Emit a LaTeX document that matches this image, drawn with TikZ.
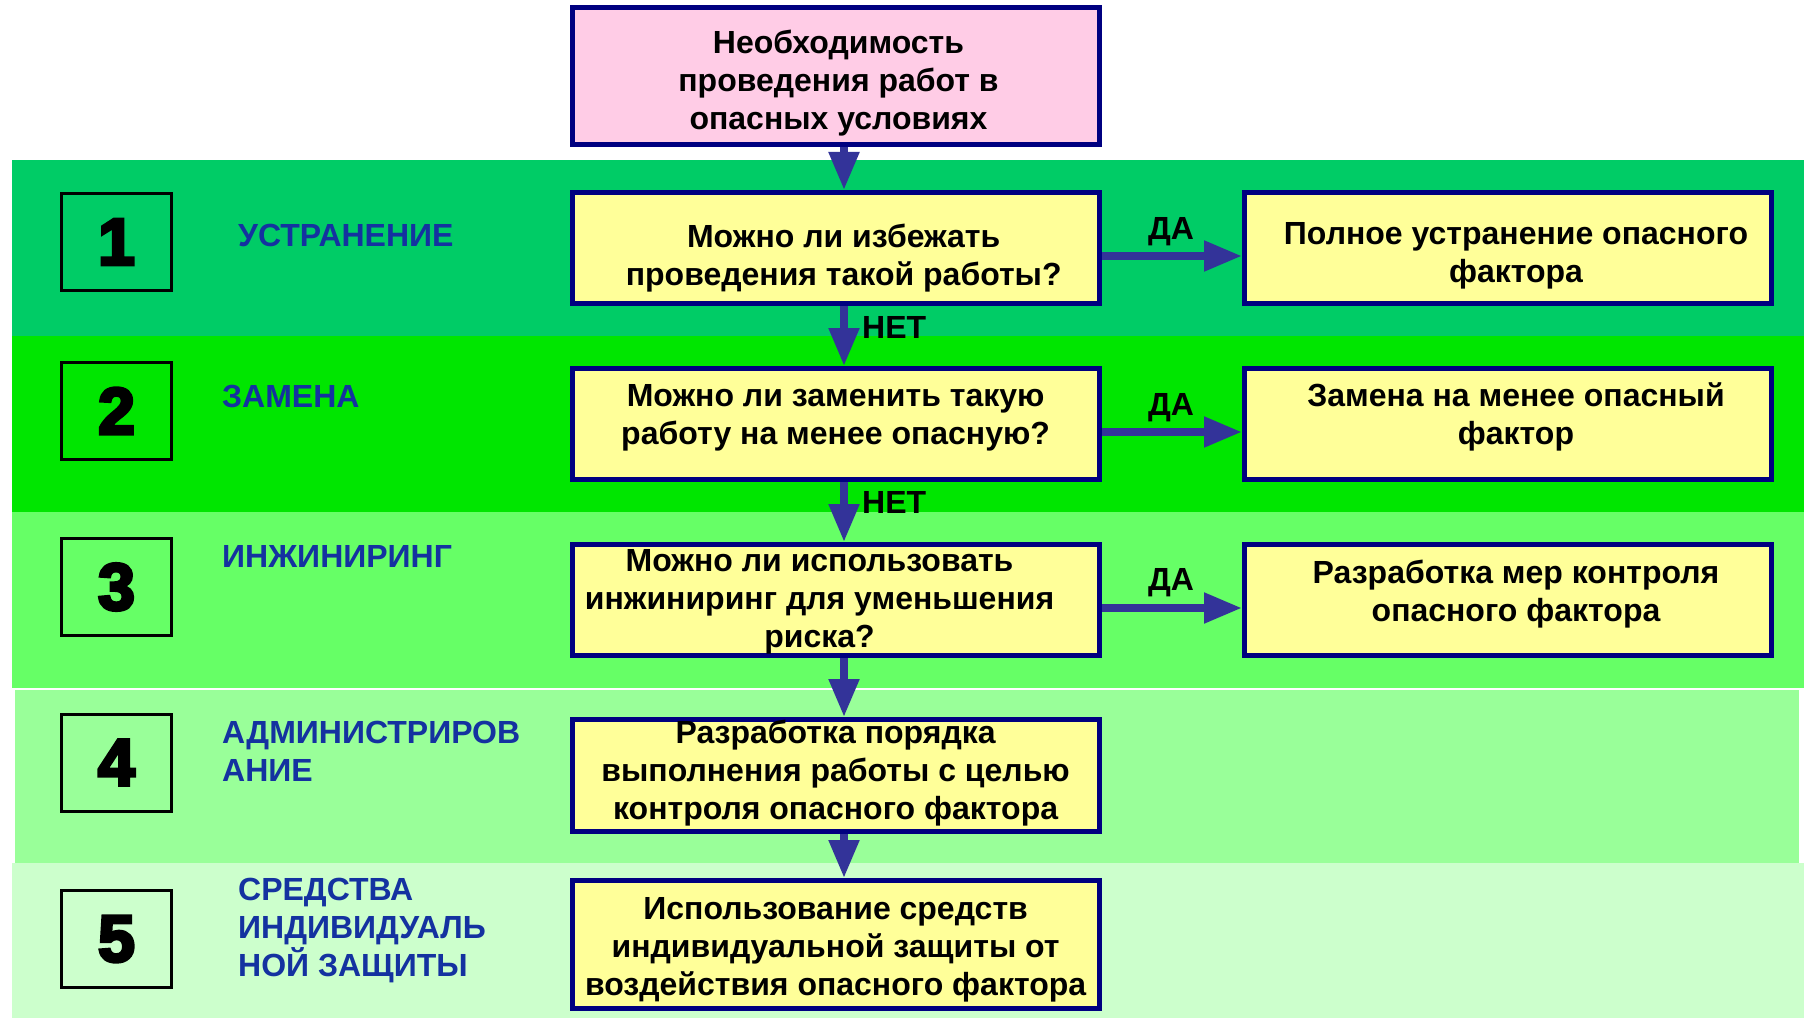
\documentclass[tikz,border=0pt]{standalone}
\usepackage{fontspec}
\setmainfont{Liberation Sans}
\newfontfamily\heavyfont[UprightFont={* Bold}, BoldFont={* Bold}, UprightFeatures={FakeBold=5}, BoldFeatures={FakeBold=5}]{Liberation Sans}
\usetikzlibrary{arrows.meta}
\definecolor{bandA}{RGB}{0,204,102}
\definecolor{bandB}{RGB}{0,230,0}
\definecolor{bandC}{RGB}{102,255,102}
\definecolor{bandD}{RGB}{153,255,153}
\definecolor{bandE}{RGB}{204,255,204}
\definecolor{boxyellow}{RGB}{255,255,153}
\definecolor{boxpink}{RGB}{255,204,230}
\definecolor{navyline}{RGB}{0,0,128}
\definecolor{arrowblue}{RGB}{51,51,153}
\definecolor{labelblue}{RGB}{20,50,160}
\begin{document}
\begin{tikzpicture}[x=1pt,y=-1pt,
  qbox/.style={draw=navyline, line width=5pt, fill=boxyellow, minimum width=527pt, minimum height=111pt, inner sep=0pt},
  btext/.style={inner sep=0pt, align=center, font=\bfseries\fontsize{32}{38}\selectfont},
  numbox/.style={draw=black, line width=3pt, minimum width=110pt, minimum height=97pt, inner sep=0pt, font=\heavyfont\fontsize{66}{70}\selectfont},
  bandlabel/.style={anchor=west, inner sep=0pt, align=left, text=labelblue, font=\bfseries\fontsize{32}{38}\selectfont},
  answer/.style={inner sep=0pt, font=\bfseries\fontsize{32}{36}\selectfont},
  flow/.style={draw=arrowblue, line width=8pt, -{Triangle[length=38pt,width=29pt]}, arrowblue}
]
\useasboundingbox[fill=white] (0,0) rectangle (1806,1019);
% bands
\fill[bandA] (11.5,160) rectangle (1804,336);
\fill[bandB] (11.5,336) rectangle (1804,512);
\fill[bandC] (11.5,512) rectangle (1804,688);
\fill[bandD] (15,690) rectangle (1799,863);
\fill[bandE] (11.5,863) rectangle (1804,1018);
% number boxes
\node[numbox] (n1) at (116.5,242) {1};
\node[numbox] (n2) at (116.5,411) {2};
\node[numbox] (n3) at (116.5,587) {3};
\node[numbox] (n4) at (116.5,762.5) {4};
\node[numbox] (n5) at (116.5,939) {5};
% band labels
\node[bandlabel] (l1) at (238,235) {УСТРАНЕНИЕ};
\node[bandlabel] (l2) at (222,396) {ЗАМЕНА};
\node[bandlabel] (l3) at (222,556) {ИНЖИНИРИНГ};
\node[bandlabel] (l4) at (222,751) {АДМИНИСТРИРОВ\\АНИЕ};
\node[bandlabel] (l5) at (238,931) {СРЕДСТВА\\ИНДИВИДУАЛЬ\\НОЙ ЗАЩИТЫ};
% boxes
\node[qbox, fill=boxpink, minimum height=137pt] (top) at (836,76) {};
\node[qbox] (q1) at (836,248) {};
\node[qbox] (q2) at (836,424) {};
\node[qbox] (q3) at (836,600) {};
\node[qbox, minimum height=112pt] (q4) at (836,775.5) {};
\node[qbox, minimum height=128pt] (q5) at (836,944.5) {};
\node[qbox] (r1) at (1508,248) {};
\node[qbox] (r2) at (1508,424) {};
\node[qbox] (r3) at (1508,600) {};
% box texts
\node[btext] (topt) at (838.5,83) {Необходимость\\проведения работ в\\опасных условиях};
\node[btext] (q1t) at (843.7,258) {Можно ли избежать\\проведения такой работы?};
\node[btext] (q2t) at (835.6,418) {Можно ли заменить такую\\работу на менее опасную?};
\node[btext] (q3t) at (819.5,602) {Можно ли использовать\\инжиниринг для уменьшения\\риска?};
\node[btext] (q4t) at (835.6,773) {Разработка порядка\\выполнения работы с целью\\контроля опасного фактора};
\node[btext] (q5t) at (835.6,949.5) {Использование средств\\индивидуальной защиты от\\воздействия опасного фактора};
\node[btext] (r1t) at (1516,256) {Полное устранение опасного\\фактора};
\node[btext] (r2t) at (1516,417) {Замена на менее опасный\\фактор};
\node[btext] (r3t) at (1516,594) {Разработка мер контроля\\опасного фактора};
% vertical arrows
\draw[flow] ([xshift=8pt]top.south) -- ([xshift=8pt]q1.north);
\draw[flow] ([xshift=8pt]q1.south) -- ([xshift=8pt]q2.north);
\draw[flow] ([xshift=8pt]q2.south) -- ([xshift=8pt]q3.north);
\draw[flow] ([xshift=8pt]q3.south) -- ([xshift=8pt]q4.north);
\draw[flow] ([xshift=8pt]q4.south) -- ([xshift=8pt]q5.north);
% horizontal arrows
\draw[flow] ([yshift=-8pt]q1.east) -- ([yshift=-8pt]r1.west);
\draw[flow] ([yshift=-8pt]q2.east) -- ([yshift=-8pt]r2.west);
\draw[flow] ([yshift=-8pt]q3.east) -- ([yshift=-8pt]r3.west);
% answers
\node[answer] (y1) at (1171,232) {ДА};
\node[answer] (y2) at (1171,408) {ДА};
\node[answer] (y3) at (1171,583) {ДА};
\node[answer, anchor=west] (no1) at (862,327) {НЕТ};
\node[answer, anchor=west] (no2) at (862,502) {НЕТ};
\end{tikzpicture}
\end{document}
